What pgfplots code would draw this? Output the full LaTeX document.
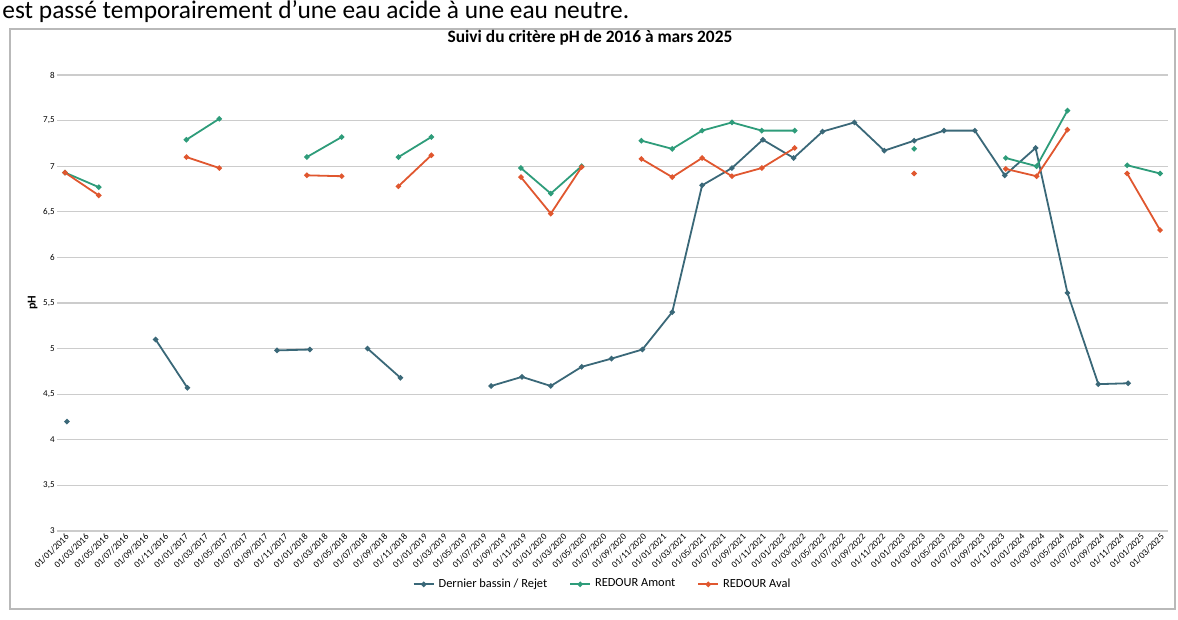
\documentclass[border=0pt]{standalone}
\usepackage{fontspec}
\setmainfont{Carlito}
\usepackage{pgfplots}
\pgfplotsset{compat=1.18}

\definecolor{dbcol}{HTML}{3A6878}
\definecolor{amcol}{HTML}{2E9C7A}
\definecolor{avcol}{HTML}{E0572F}

\begin{document}
\begin{tikzpicture}
\path[use as bounding box] (0,0) rectangle (589pt,310pt);
\node[anchor=west, font=\fontsize{12.7}{14}\selectfont, inner sep=0pt] at (1pt,304pt)
  {est passé temporairement d’une eau acide à une eau neutre.};
\draw[gray!55, line width=0.6pt] (5pt,5.5pt) rectangle (587.5pt,295.5pt);
\node[font=\bfseries\fontsize{8.7}{10}\selectfont] at (295pt,291pt)
  {Suivi du critère pH de 2016 à mars 2025};

\begin{axis}[
  at={(28.5pt,44.5pt)}, anchor=south west,
  scale only axis, width=555.5pt, height=228pt,
  xmin=-0.8, xmax=110.8, ymin=3, ymax=8,
  ytick={3,3.5,...,8},
  /pgf/number format/assume math mode=true,
  /pgf/number format/use comma,
  yticklabel style={font=\fontsize{4.5}{5}\selectfont, inner sep=1pt},
  ylabel={pH},
  ylabel style={at={(axis description cs:-0.022,0.5)}, anchor=center,
    font=\bfseries\fontsize{6}{7}\selectfont},
  xtick={0,2,...,110},
  xticklabels={01/01/2016,01/03/2016,01/05/2016,01/07/2016,01/09/2016,01/11/2016,
    01/01/2017,01/03/2017,01/05/2017,01/07/2017,01/09/2017,01/11/2017,
    01/01/2018,01/03/2018,01/05/2018,01/07/2018,01/09/2018,01/11/2018,
    01/01/2019,01/03/2019,01/05/2019,01/07/2019,01/09/2019,01/11/2019,
    01/01/2020,01/03/2020,01/05/2020,01/07/2020,01/09/2020,01/11/2020,
    01/01/2021,01/03/2021,01/05/2021,01/07/2021,01/09/2021,01/11/2021,
    01/01/2022,01/03/2022,01/05/2022,01/07/2022,01/09/2022,01/11/2022,
    01/01/2023,01/03/2023,01/05/2023,01/07/2023,01/09/2023,01/11/2023,
    01/01/2024,01/03/2024,01/05/2024,01/07/2024,01/09/2024,01/11/2024,
    01/01/2025,01/03/2025},
  xticklabel style={rotate=45, anchor=north east, inner sep=0.5pt,
    font=\fontsize{4.6}{4.6}\selectfont},
  ymajorgrids,
  major grid style={gray!40, line width=0.6pt},
  axis line style={draw=none},
  tick style={draw=none},
  unbounded coords=jump,
  every axis plot/.append style={line width=0.9pt, mark=*, mark size=0.85pt},
  legend image code/.code={\draw[mark repeat=2,mark phase=2]
    plot coordinates {(0pt,0pt) (5pt,0pt) (10pt,0pt)};},
  legend style={at={(axis description cs:0.492,-0.117)}, anchor=center,
    legend columns=-1, draw=none, fill=none,
    font=\fontsize{6.2}{7}\selectfont,
    /tikz/every even column/.append style={column sep=9pt}},
]
% Dernier bassin / Rejet
\addplot[dbcol, mark options={fill=dbcol}] coordinates {
  (0.2,4.20) (5,nan)
  (9.1,5.10) (12.3,4.57) (17,nan)
  (21.3,4.98) (24.6,4.99) (27,nan)
  (30.4,5.00) (33.7,4.68) (38,nan)
  (42.8,4.59) (45.9,4.69) (48.8,4.59) (51.9,4.80) (54.9,4.89) (58.0,4.99)
  (61.0,5.40) (64.0,6.79) (67.0,6.98) (70.1,7.29) (73.2,7.09) (76.1,7.38)
  (79.3,7.48) (82.3,7.17) (85.3,7.28) (88.3,7.39) (91.4,7.39) (94.4,6.90)
  (97.5,7.20) (100.7,5.61) (103.8,4.61) (106.8,4.62)
};
% REDOUR Amont
\addplot[amcol, mark options={fill=amcol}] coordinates {
  (0,6.93) (3.4,6.77) (8,nan)
  (12.2,7.29) (15.5,7.52) (20,nan)
  (24.3,7.10) (27.8,7.32) (30,nan)
  (33.5,7.10) (36.8,7.32) (40,nan)
  (45.8,6.98) (48.8,6.70) (51.9,7.00) (55,nan)
  (57.9,7.28) (61.0,7.19) (64.0,7.39) (67.0,7.48) (70.0,7.39) (73.3,7.39) (80,nan)
  (85.3,7.19) (90,nan)
  (94.5,7.09) (97.6,7.00) (100.7,7.61) (104,nan)
  (106.7,7.01) (110,6.92)
};
% REDOUR Aval
\addplot[avcol, mark options={fill=avcol}] coordinates {
  (0,6.93) (3.4,6.68) (8,nan)
  (12.2,7.10) (15.5,6.98) (20,nan)
  (24.3,6.90) (27.8,6.89) (30,nan)
  (33.5,6.78) (36.8,7.12) (40,nan)
  (45.8,6.88) (48.8,6.48) (51.9,6.99) (55,nan)
  (57.9,7.08) (61.0,6.88) (64.0,7.09) (67.0,6.89) (70.0,6.98) (73.3,7.20) (80,nan)
  (85.3,6.92) (90,nan)
  (94.5,6.97) (97.6,6.89) (100.7,7.40) (104,nan)
  (106.7,6.92) (110,6.30)
};
\legend{Dernier bassin / Rejet, REDOUR Amont, REDOUR Aval}
\end{axis}
\end{tikzpicture}
\end{document}
